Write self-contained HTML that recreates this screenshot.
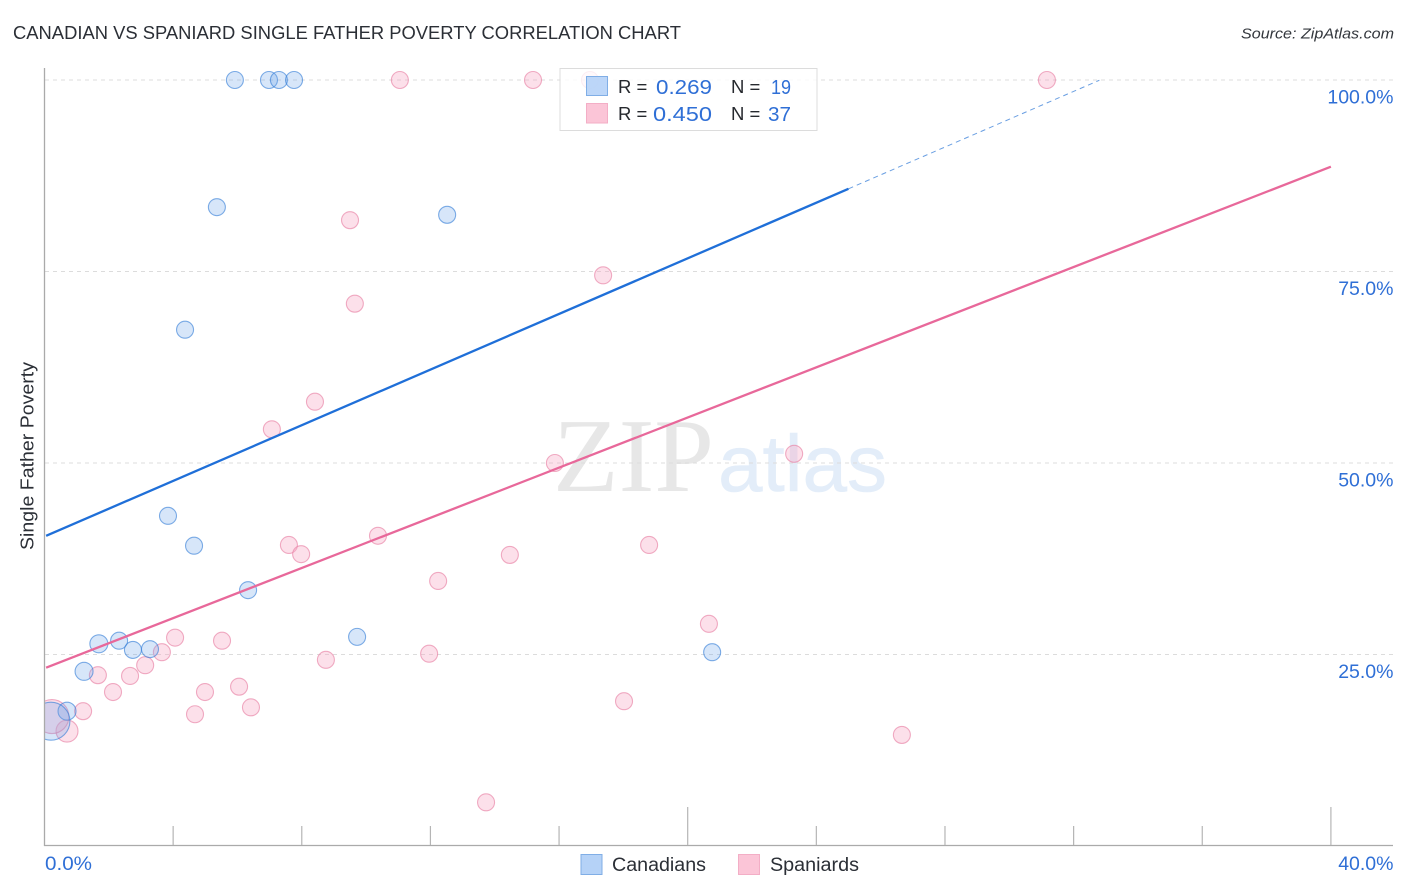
<!DOCTYPE html>
<html>
<head>
<meta charset="utf-8">
<title>Canadian vs Spaniard Single Father Poverty Correlation Chart</title>
<style>
html,body{margin:0;padding:0;background:#fff;width:1406px;height:892px;overflow:hidden}
svg{display:block;font-family:"Liberation Sans",sans-serif}
</style>
</head>
<body>
<svg id="chart" width="1406" height="892" viewBox="0 0 1406 892">
  <defs><clipPath id="plot-clip"><rect x="45" y="60" width="1348" height="785"/></clipPath></defs>
  <text x="13" y="39" font-size="18.5" fill="#2b2f36" textLength="668" lengthAdjust="spacingAndGlyphs">CANADIAN VS SPANIARD SINGLE FATHER POVERTY CORRELATION CHART</text>
  <text x="1241" y="38.5" font-size="15" font-style="italic" fill="#33373d" textLength="153" lengthAdjust="spacingAndGlyphs">Source: ZipAtlas.com</text>
  <g>
    <text x="553" y="491" font-family="'Liberation Serif',serif" font-size="105" fill="#e7e7e7" textLength="161" lengthAdjust="spacingAndGlyphs">ZIP</text>
    <text x="718" y="491" font-size="80" fill="#e3edf9" stroke="#e3edf9" stroke-width="0.6" textLength="169" lengthAdjust="spacingAndGlyphs">atlas</text>
  </g>
  <g id="grid"></g>
  <g id="series" clip-path="url(#plot-clip)"></g>
  <g id="axes"></g>
  <text transform="translate(33.5,456) rotate(-90)" text-anchor="middle" font-size="18.5" fill="#2b2f36" textLength="188" lengthAdjust="spacingAndGlyphs">Single Father Poverty</text>

  <g>
    <rect x="560" y="68.5" width="257" height="62" fill="#fff" fill-opacity="0.8" stroke="#dcdcdc" stroke-width="1"/>
    <rect x="586.5" y="76.5" width="21" height="19" fill="#b5d2f7" fill-opacity="0.9" stroke="#80aee6"/>
    <rect x="586.5" y="103.5" width="21" height="19.5" fill="#fbc5d7" stroke="#f3aec6"/>
    <g font-size="20">
      <text x="618" y="93" font-size="18.5" fill="#26292e">R =</text>
      <text x="656" y="94" fill="#2f6fd6" textLength="56" lengthAdjust="spacingAndGlyphs">0.269</text>
      <text x="731" y="93" font-size="18.5" fill="#26292e">N =</text>
      <text x="771" y="94" fill="#2f6fd6" textLength="20" lengthAdjust="spacingAndGlyphs">19</text>
      <text x="618" y="120" font-size="18.5" fill="#26292e">R =</text>
      <text x="653" y="121" fill="#2f6fd6" textLength="59" lengthAdjust="spacingAndGlyphs">0.450</text>
      <text x="731" y="120" font-size="18.5" fill="#26292e">N =</text>
      <text x="768" y="121" fill="#2f6fd6" textLength="23" lengthAdjust="spacingAndGlyphs">37</text>
    </g>
  </g>

  <g>
    <rect x="581" y="854.5" width="21" height="20" fill="#b5d2f7" stroke="#80aee6"/>
    <text x="612" y="871" font-size="19" fill="#2b2f36" textLength="94" lengthAdjust="spacingAndGlyphs">Canadians</text>
    <rect x="738.5" y="854.5" width="21" height="20" fill="#fbc5d7" stroke="#f3aec6"/>
    <text x="770" y="871" font-size="19" fill="#2b2f36" textLength="89" lengthAdjust="spacingAndGlyphs">Spaniards</text>
  </g>
</svg>
<script>
var yTicks = [25, 50, 75, 100];
var yTickLabels = ["25.0%", "50.0%", "75.0%", "100.0%"];
var xTicks = [0, 4, 8, 12, 16, 20, 24, 28, 32, 36, 40];
var xMajorTicks = [20, 40];
var xEndLabels = ["0.0%", "40.0%"];

var canadianX = [5.92, 6.98, 7.29, 7.76, 5.36, 12.52, 4.37, 3.84, 4.65, 6.33, 1.69, 2.32, 2.75, 3.28, 1.23, 9.72, 20.76, 0.70, 0.20];
var canadianY = [100, 100, 100, 100, 83.4, 82.4, 67.4, 43.1, 39.2, 33.4, 26.4, 26.8, 25.6, 25.7, 22.8, 27.3, 25.3, 17.6, 16.3];
var canadianSize = [8.5, 8.5, 8.5, 8.5, 8.5, 8.5, 8.5, 8.5, 8.5, 8.5, 9, 8.5, 8.5, 8.5, 9, 8.5, 8.5, 9, 19];

var spaniardX = [11.05, 15.19, 16.96, 31.17, 9.50, 17.37, 9.65, 8.41, 7.07, 15.87, 23.31, 10.37, 7.60, 7.98, 14.47, 18.80, 12.24, 20.66, 4.06, 5.52, 3.65, 11.96, 8.75, 3.13, 1.66, 2.66, 2.13, 4.99, 6.05, 1.20, 6.42, 4.68, 18.02, 26.66, 0.70, 13.73, 0.23];
var spaniardY = [100, 100, 100, 100, 81.7, 74.5, 70.8, 58.0, 54.4, 50.0, 51.2, 40.5, 39.3, 38.1, 38.0, 39.3, 34.6, 29.0, 27.2, 26.8, 25.3, 25.1, 24.3, 23.6, 22.3, 22.2, 20.1, 20.1, 20.8, 17.6, 18.1, 17.2, 18.9, 14.5, 15.0, 5.7, 16.9];
var spaniardSize = [8.5, 8.5, 8.5, 8.5, 8.5, 8.5, 8.5, 8.5, 8.5, 8.5, 8.5, 8.5, 8.5, 8.5, 8.5, 8.5, 8.5, 8.5, 8.5, 8.5, 8.5, 8.5, 8.5, 8.5, 8.5, 8.5, 8.5, 8.5, 8.5, 8.5, 8.5, 8.5, 8.5, 8.5, 11, 8.5, 17];

var canadianTrend = [40.4, 1.816];
var canadianTrendSolidEnd = [25.0];
var canadianTrendDashEnd = [32.8];
var spaniardTrend = [23.2, 1.637];
var spaniardTrendEnd = [40];

var NS = "http://www.w3.org/2000/svg";
function sx(v) { return 44.5 + v * 32.16; }
function sy(v) { return 846 - v * 7.66; }
function mk(parent, tag, attrs, text) {
  var el = document.createElementNS(NS, tag);
  for (var k in attrs) el.setAttribute(k, attrs[k]);
  if (text !== undefined) el.textContent = text;
  parent.appendChild(el);
  return el;
}
var grid = document.getElementById("grid");
var axes = document.getElementById("axes");
var series = document.getElementById("series");

yTicks.forEach(function (t, i) {
  var line = mk(grid, "line", {x1: 45, x2: 1393, y1: sy(t), y2: sy(t), stroke: "#dcdcdc", "stroke-width": 1, "stroke-dasharray": "4 4"});
  
  
  var lab = mk(axes, "text", {x: 1393.5, y: sy(t) + 23.5, "text-anchor": "end", "font-size": 19.5, fill: "#2f6fd6"}, yTickLabels[i]);
  
  
});

var yAxis = mk(axes, "line", {x1: 44.5, x2: 44.5, y1: 68, y2: 846, stroke: "#aaaaaa", "stroke-width": 1.3});


var xAxis = mk(axes, "line", {x1: 44, x2: 1393, y1: 845.5, y2: 845.5, stroke: "#aaaaaa", "stroke-width": 1.3});



xTicks.forEach(function (t) {
  if (t === 0) return;
  var top = xMajorTicks.indexOf(t) >= 0 ? 807 : 826;
  var tick = mk(axes, "line", {x1: sx(t), x2: sx(t), y1: top, y2: 845, stroke: "#b5b5b5", "stroke-width": 1.2});
  
  
});
var x0Label = mk(axes, "text", {x: 45, y: 870, "font-size": 19.5, fill: "#2f6fd6", textLength: 47, lengthAdjust: "spacingAndGlyphs"}, xEndLabels[0]);


var x1Label = mk(axes, "text", {x: 1393.5, y: 870, "text-anchor": "end", "font-size": 19.5, fill: "#2f6fd6"}, xEndLabels[1]);



function drawPoints(xs, ys, rs, fill, stroke, name) {
  xs.forEach(function (x, i) {
    var c = mk(series, "circle", {cx: sx(x), cy: sy(ys[i]), r: rs[i], fill: fill, stroke: stroke, "stroke-width": 1.1});
    
    
  });
}
drawPoints(spaniardX, spaniardY, spaniardSize, "rgba(246,170,197,0.36)", "rgba(232,130,165,0.66)", "spaniard-point");
drawPoints(canadianX, canadianY, canadianSize, "rgba(110,165,235,0.28)", "rgba(50,125,215,0.62)", "canadian-point");

function val(tr, x) { return tr[0] + tr[1] * x; }
var blueSolid = mk(series, "line", {x1: sx(0.05), y1: sy(val(canadianTrend, 0.05)), x2: sx(canadianTrendSolidEnd[0]), y2: sy(val(canadianTrend, canadianTrendSolidEnd[0])), stroke: "#1f6fd8", "stroke-width": 2.3});


var blueDash = mk(series, "line", {x1: sx(canadianTrendSolidEnd[0]), y1: sy(val(canadianTrend, canadianTrendSolidEnd[0])), x2: sx(canadianTrendDashEnd[0]), y2: sy(val(canadianTrend, canadianTrendDashEnd[0])), stroke: "#6a9fe2", "stroke-width": 1, "stroke-dasharray": "5 4"});


var pinkSolid = mk(series, "line", {x1: sx(0.05), y1: sy(val(spaniardTrend, 0.05)), x2: sx(spaniardTrendEnd[0]), y2: sy(val(spaniardTrend, spaniardTrendEnd[0])), stroke: "#e8689a", "stroke-width": 2.3});


</script>
</body>
</html>
